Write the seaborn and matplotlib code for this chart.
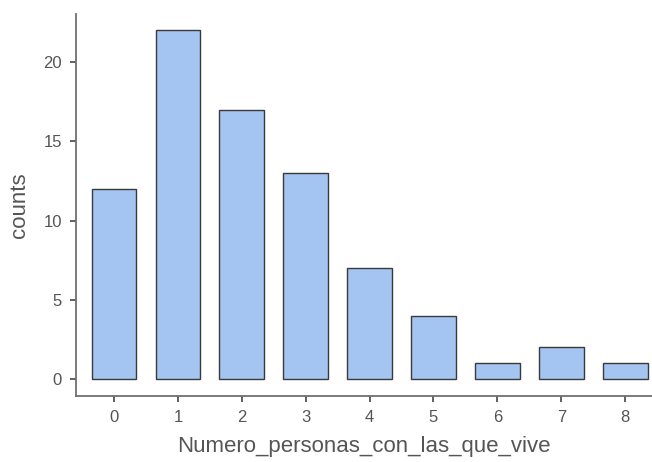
import matplotlib
matplotlib.use("Agg")
import matplotlib.pyplot as plt
import seaborn as sns
import pandas as pd

categories = ["0", "1", "2", "3", "4", "5", "6", "7", "8"]
counts = [12, 22, 17, 13, 7, 4, 1, 2, 1]
yticks = [0, 5, 10, 15, 20]

sns.set_theme(style="ticks")
plt.rcParams['font.family'] = ['Liberation Sans', 'DejaVu Sans']

df = pd.DataFrame({"Numero_personas_con_las_que_vive": categories, "counts": counts})

fig = plt.figure(figsize=(6.52, 4.62), dpi=100)
ax = fig.add_axes([76/652, 1 - 396/462, 1 - 76/652, (396 - 14)/462])

sns.barplot(data=df, x="Numero_personas_con_las_que_vive", y="counts",
            color="#A4C4F1", saturation=1, edgecolor="#3a3a3a", linewidth=1.0,
            width=0.7, ax=ax)

ax.set_xlim(-0.595, 8.42)
ax.set_ylim(-1.07, 23.03)
ax.set_yticks(yticks)
ax.set_yticklabels([str(t) for t in yticks])

for s in ["top", "right"]:
    ax.spines[s].set_visible(False)
for s in ["left", "bottom"]:
    ax.spines[s].set_color("#707070")
    ax.spines[s].set_linewidth(1.3)

ax.tick_params(axis="both", colors="#555555", labelsize=12, length=4.5, width=1.3, pad=5.5)
ax.tick_params(axis="both", labelcolor="#555555")
ax.set_xlabel("Numero_personas_con_las_que_vive", fontsize=16, color="#555555", labelpad=8)
ax.set_ylabel("counts", fontsize=16, color="#555555", labelpad=9.5)

fig.savefig("out.png", dpi=100)
